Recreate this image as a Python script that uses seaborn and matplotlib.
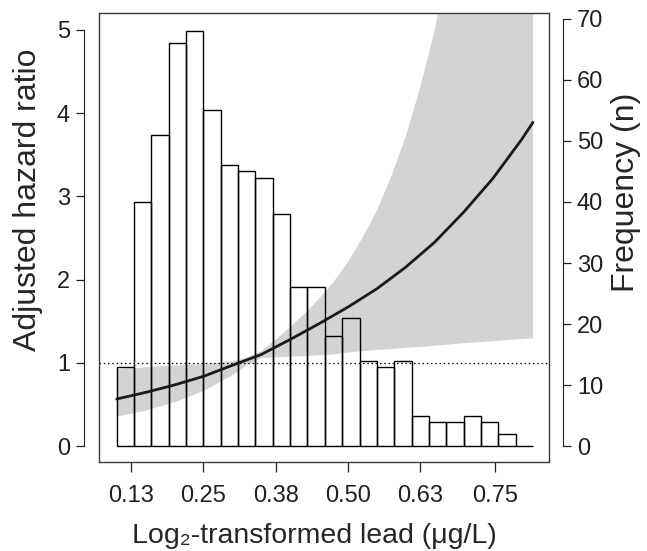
import numpy as np
import matplotlib
matplotlib.use("Agg")
import matplotlib.pyplot as plt
import seaborn as sns

# histogram of log2 lead (right axis, frequency)
bin_edges = [0.10, 0.13, 0.16, 0.19, 0.22, 0.25, 0.28, 0.31, 0.34, 0.37, 0.40, 0.43,
             0.46, 0.49, 0.52, 0.55, 0.58, 0.61, 0.64, 0.67, 0.70, 0.73, 0.76, 0.79, 0.82]
counts = [13, 40, 51, 66, 68, 55, 46, 45, 44, 38, 26, 26,
          18, 21, 14, 13, 14, 5, 4, 4, 5, 4, 2, 0]

# adjusted hazard ratio curve (left axis)
hr_x = [0.10, 0.15, 0.20, 0.25, 0.30, 0.35, 0.40, 0.45, 0.50, 0.55, 0.60, 0.65, 0.70, 0.75, 0.80, 0.82]
hr = [0.565, 0.644, 0.734, 0.837, 0.97, 1.10, 1.28, 1.47, 1.67, 1.89, 2.15, 2.45, 2.81, 3.21, 3.68, 3.89]

# 95% confidence band
band_x = [0.10, 0.15, 0.20, 0.25, 0.30, 0.325, 0.35, 0.375, 0.40, 0.425, 0.45, 0.475, 0.50,
          0.525, 0.55, 0.575, 0.60, 0.625, 0.65, 0.675, 0.70, 0.75, 0.80, 0.82]
band_low = [0.352, 0.425, 0.525, 0.66, 0.85, 0.97, 1.055, 1.065, 1.073, 1.08, 1.09, 1.10, 1.125,
            1.14, 1.155, 1.165, 1.18, 1.19, 1.205, 1.22, 1.235, 1.26, 1.285, 1.294]
band_high = [0.92, 0.947, 0.967, 0.985, 1.02, 1.06, 1.14, 1.28, 1.43, 1.59, 1.77, 1.97, 2.21,
             2.50, 2.83, 3.24, 3.72, 4.31, 5.00, 5.85, 6.8, 9.2, 12.4, 14.0]

xtick_pos = [0.125, 0.25, 0.375, 0.50, 0.625, 0.755]
xtick_labels = ["0.13", "0.25", "0.38", "0.50", "0.63", "0.75"]
hr_ticks = [0, 1, 2, 3, 4, 5]
freq_ticks = [0, 10, 20, 30, 40, 50, 60, 70]

sns.set_style("ticks")
plt.rcParams["font.family"] = ["Liberation Sans", "DejaVu Sans"]
text_col = "#231f20"
plt.rcParams["text.color"] = text_col
plt.rcParams["xtick.color"] = text_col
plt.rcParams["ytick.color"] = text_col

fig = plt.figure(figsize=(6.47, 5.51), dpi=100)
ax = fig.add_axes([99 / 647, 1 - 462 / 551, 450 / 647, 449 / 551])
xlim = (0.0694, 0.8477)
hr_lim = (-0.192, 5.204)
freq_lim = (-2.62, 70.98)

# layer 1: confidence band (hazard ratio scale)
ax.fill_between(band_x, band_low, band_high, color="#d2d3d5", linewidth=0)
ax.set_xlim(*xlim)
ax.set_ylim(*hr_lim)

# layer 2: histogram (frequency scale)
ax_bar = ax.twinx()
centers = [(a + b) / 2 for a, b in zip(bin_edges[:-1], bin_edges[1:])]
sns.histplot(x=centers, weights=counts, bins=bin_edges, ax=ax_bar, fill=False,
             color="black", linewidth=1.0)
ax_bar.set_xlim(*xlim)
ax_bar.set_ylim(*freq_lim)

# layer 3: curve, reference line, box
ax_top = ax.twinx()
sns.lineplot(x=hr_x, y=hr, ax=ax_top, color="#1a1a1a", linewidth=2.0)
ax_top.axhline(1, color="black", linewidth=0.9, linestyle=(0, (1.2, 2.2)))
ax_top.set_xlim(*xlim)
ax_top.set_ylim(*hr_lim)
ax_top.set_yticks([])
ax_top.set_ylabel("")
for s in ax_top.spines.values():
    s.set_visible(True)
    s.set_color("#3a3a3a")
    s.set_linewidth(1.0)

tick_fs = 17
xlabel_fs = 20.5
ylabel_fs = 23

# left axis
for s in ["top", "right", "bottom"]:
    ax.spines[s].set_visible(False)
ax.spines["left"].set_position(("outward", 10.8))
ax.spines["left"].set_bounds(0, 5)
ax.spines["left"].set_color(text_col)
ax.set_yticks(hr_ticks)
ax.tick_params(axis="y", length=6, width=0.9, labelsize=tick_fs, pad=4)
ax.set_ylabel("Adjusted hazard ratio", fontsize=ylabel_fs)
ax.yaxis.set_label_coords(-0.125, 0.585)

# bottom axis
ax.set_xticks(xtick_pos)
ax.set_xticklabels(xtick_labels)
ax.tick_params(axis="x", length=7.5, width=0.9, labelsize=tick_fs, pad=9)
ax.set_xlabel("Log\u2082-transformed lead (\u03bcg/L)", fontsize=xlabel_fs)
ax.xaxis.set_label_coords(0.478, -0.135)

# right axis
for s in ["top", "left", "bottom"]:
    ax_bar.spines[s].set_visible(False)
ax_bar.spines["right"].set_position(("outward", 10))
ax_bar.spines["right"].set_bounds(0, 70)
ax_bar.spines["right"].set_color(text_col)
ax_bar.set_yticks(freq_ticks)
ax_bar.tick_params(axis="y", length=6, width=0.9, labelsize=tick_fs, pad=4)
ax_bar.set_ylabel("Frequency (n)", fontsize=ylabel_fs)
ax_bar.yaxis.set_label_coords(1.137, 0.60)
ax_bar.set_xlabel("")
ax_bar.tick_params(axis="x", bottom=False, labelbottom=False)
ax_top.tick_params(axis="x", bottom=False, labelbottom=False)
ax_top.set_xlabel("")

fig.savefig("out.png", dpi=100)
